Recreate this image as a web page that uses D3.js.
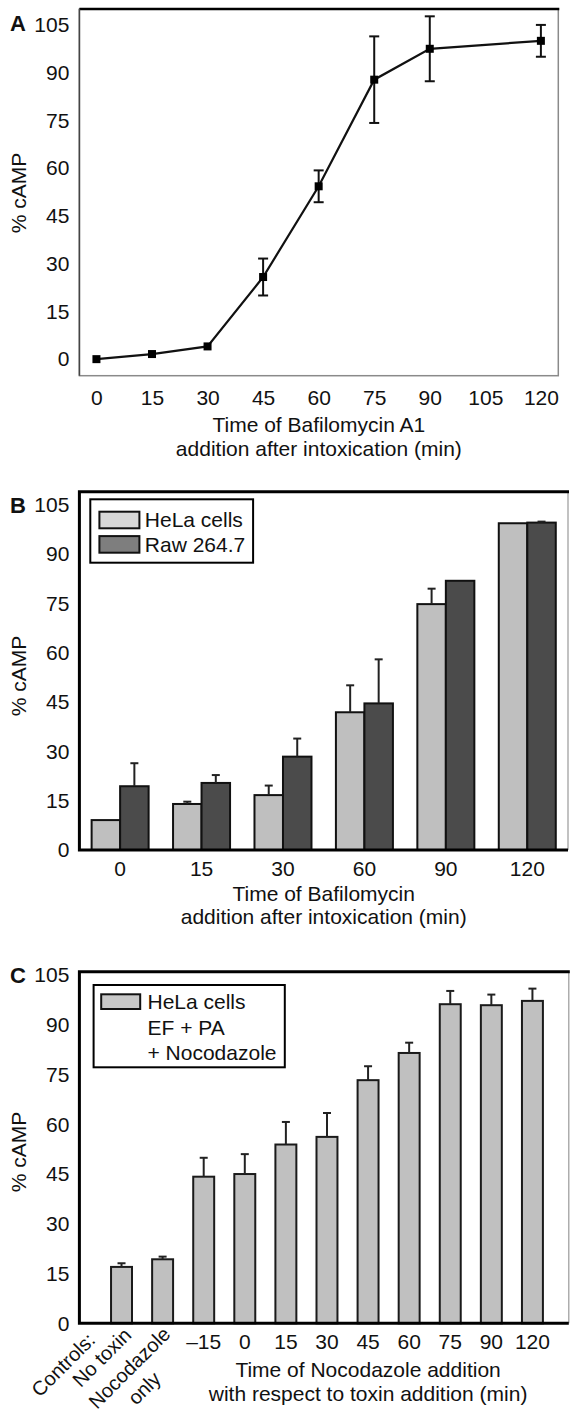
<!DOCTYPE html>
<html>
<head>
<meta charset="utf-8">
<script src="https://cdn.jsdelivr.net/npm/d3@7"></script>
<style>
  body { margin: 0; background: #fff; }
  svg text { font-family: 'Liberation Sans', Arial, Helvetica, sans-serif; fill: #111; }
</style>
</head>
<body>
<svg id="fig" width="571" height="1413"></svg>
<script>
// ---- data ----
var yTicks = [0, 15, 30, 45, 60, 75, 90, 105];

// panel A
var aTimes = [0, 15, 30, 45, 60, 75, 90, 120];
var aCamp  = [0, 1.6, 4.0, 25.8, 54.3, 87.8, 97.5, 100.0];
var aErr   = [0, 0, 0, 5.8, 5.0, 13.6, 10.2, 5.0];
var aXTicks = [0, 15, 30, 45, 60, 75, 90, 105, 120];

// panel B
var bTimes  = ["0", "15", "30", "60", "90", "120"];
var bSeries = ["HeLa cells", "Raw 264.7"];
var bHela    = [9.1, 14.0, 16.7, 41.9, 74.8, 99.4];
var bHelaErr = [0, 0.7, 2.9, 8.2, 4.7, 0];
var bRaw     = [19.4, 20.4, 28.4, 44.6, 81.9, 99.6];
var bRawErr  = [7.0, 2.4, 5.5, 13.4, 0, 0.3];

// panel C
var cCategories = ["No toxin", "Nocodazole only", "\u201315", "0", "15", "30", "45", "60", "75", "90", "120"];
var cCamp = [17.0, 19.3, 44.2, 45.0, 53.9, 56.2, 73.3, 81.5, 96.2, 95.9, 97.2];
var cErr  = [1.1, 0.8, 5.7, 6.0, 6.8, 7.2, 4.2, 3.1, 4.0, 3.2, 3.7];
var cLegend = ["HeLa cells", "EF + PA", "+ Nocodazole"];

var svg = d3.select("#fig");
var tickFont = 21, titleFont = 21;

/* y tick labels only, no tick marks */
function yLabels(g, y, left) {
	var ax = g.append("g").attr("transform", "translate(" + left + ",0)")
		.call(d3.axisLeft(y).tickValues(yTicks).tickSize(0).tickPadding(10));
	ax.select(".domain").remove();
	ax.selectAll("text").style("font-size", tickFont + "px").attr("fill", "#111");
}

function yTitle(g, x, cy) {
	g.append("text").attr("transform", "translate(" + x + "," + cy + ") rotate(-90)")
		.attr("text-anchor", "middle").attr("dy", "0.35em")
		.style("font-size", titleFont + "px").text("% cAMP");
}

function panelLabel(g, txt, y) {
	g.append("text").attr("x", 10).attr("y", y)
		.style("font-size", "22px").style("font-weight", "bold").text(txt);
}

function xTitle(g, cx, y, lines) {
	lines.forEach(function(l, i) {
		g.append("text").attr("x", cx).attr("y", y + i * 23.5)
			.attr("text-anchor", "middle").style("font-size", titleFont + "px").text(l);
	});
}

/*** Panel A ***/
(function() {
	var L = 79.4, R = 558.3, T = 9, B = 375.7;
	var x = d3.scaleLinear().domain([-4.6, 124.7]).range([L, R]);
	var y = d3.scaleLinear().domain([-5.2, 110]).range([B, T]);
	var g = svg.append("g");

	g.append("rect").attr("x", L).attr("y", T).attr("width", R - L).attr("height", B - T)
		.attr("fill", "none").attr("stroke", "#8a8a8a").attr("stroke-width", 1.5);
	g.append("line").attr("x1", L).attr("x2", R + 1).attr("y1", T).attr("y2", T)
		.attr("stroke", "#000").attr("stroke-width", 2.5);
	g.append("line").attr("x1", L).attr("x2", L).attr("y1", T).attr("y2", B)
		.attr("stroke", "#444").attr("stroke-width", 1.5);

	yLabels(g, y, L);
	var ax = g.append("g").attr("transform", "translate(0," + B + ")")
		.call(d3.axisBottom(x).tickValues(aXTicks).tickSize(0).tickPadding(14));
	ax.select(".domain").remove();
	ax.selectAll("text").style("font-size", tickFont + "px").attr("fill", "#111");

	var pts = aTimes.map(function(t, i) { return { t: t, v: aCamp[i], e: aErr[i] }; });

	g.append("path").datum(pts)
		.attr("fill", "none").attr("stroke", "#111").attr("stroke-width", 2.2)
		.attr("d", d3.line().x(function(d) { return x(d.t); }).y(function(d) { return y(d.v); }));

	var eb = g.selectAll(".err").data(pts.filter(function(d) { return d.e > 0; })).enter().append("g");
	eb.append("line").attr("x1", function(d) { return x(d.t); }).attr("x2", function(d) { return x(d.t); })
		.attr("y1", function(d) { return y(d.v - d.e); }).attr("y2", function(d) { return y(d.v + d.e); })
		.attr("stroke", "#111").attr("stroke-width", 2);
	[-1, 1].forEach(function(s) {
		eb.append("line").attr("x1", function(d) { return x(d.t) - 5; }).attr("x2", function(d) { return x(d.t) + 5; })
			.attr("y1", function(d) { return y(d.v + s * d.e); }).attr("y2", function(d) { return y(d.v + s * d.e); })
			.attr("stroke", "#111").attr("stroke-width", 2);
	});

	g.selectAll(".mk").data(pts).enter().append("rect")
		.attr("x", function(d) { return x(d.t) - 4; }).attr("y", function(d) { return y(d.v) - 4; })
		.attr("width", 8).attr("height", 8).attr("fill", "#000");

	panelLabel(g, "A", 31);
	yTitle(g, 19, 193);
	xTitle(g, (L + R) / 2, 432, ["Time of Bafilomycin A1", "addition after intoxication (min)"]);
})();

/*** Panel B ***/
(function() {
	var L = 79.4, R = 568, T = 491.7, B = 850;
	var y = d3.scaleLinear().domain([0, 109]).range([B, T]);
	var x0 = d3.scaleBand().domain(bTimes).range([L, R]).paddingInner(0.3).paddingOuter(0.15);
	var x1 = d3.scaleBand().domain(bSeries).range([0, x0.bandwidth()]);
	var fills = { "HeLa cells": "#bfbfbf", "Raw 264.7": "#4b4b4b" };
	var legendFills = { "HeLa cells": "#d8d8d8", "Raw 264.7": "#7e7e7e" };
	var g = svg.append("g");

	g.append("line").attr("x1", R).attr("x2", R).attr("y1", T).attr("y2", B)
		.attr("stroke", "#999").attr("stroke-width", 1.2);

	var rows = [];
	bTimes.forEach(function(t, i) {
		rows.push({ t: t, s: bSeries[0], v: bHela[i], e: bHelaErr[i] });
		rows.push({ t: t, s: bSeries[1], v: bRaw[i], e: bRawErr[i] });
	});

	g.selectAll(".bar").data(rows).enter().append("rect")
		.attr("x", function(d) { return x0(d.t) + x1(d.s); })
		.attr("y", function(d) { return y(d.v); })
		.attr("width", x1.bandwidth()).attr("height", function(d) { return B - y(d.v); })
		.attr("fill", function(d) { return fills[d.s]; })
		.attr("stroke", "#111").attr("stroke-width", 2);

	var eb = g.selectAll(".err").data(rows.filter(function(d) { return d.e > 0; })).enter().append("g");
	eb.append("line")
		.attr("x1", function(d) { return x0(d.t) + x1(d.s) + x1.bandwidth() / 2; })
		.attr("x2", function(d) { return x0(d.t) + x1(d.s) + x1.bandwidth() / 2; })
		.attr("y1", function(d) { return y(d.v); }).attr("y2", function(d) { return y(d.v + d.e); })
		.attr("stroke", "#222").attr("stroke-width", 2);
	eb.append("line")
		.attr("x1", function(d) { return x0(d.t) + x1(d.s) + x1.bandwidth() / 2 - 4; })
		.attr("x2", function(d) { return x0(d.t) + x1(d.s) + x1.bandwidth() / 2 + 4; })
		.attr("y1", function(d) { return y(d.v + d.e); }).attr("y2", function(d) { return y(d.v + d.e); })
		.attr("stroke", "#222").attr("stroke-width", 2);

	// frame: heavy top, left, bottom
	g.append("path").attr("d", "M" + (R + 1) + "," + T + "H" + L + "V" + B + "H" + R)
		.attr("fill", "none").attr("stroke", "#000").attr("stroke-width", 3);

	yLabels(g, y, L);
	var ax = g.append("g").attr("transform", "translate(0," + B + ")")
		.call(d3.axisBottom(x0).tickSize(0).tickPadding(11));
	ax.select(".domain").remove();
	ax.selectAll("text").style("font-size", tickFont + "px").attr("fill", "#111");

	// legend
	var lg = g.append("g").attr("transform", "translate(90.3,499.3)");
	lg.append("rect").attr("width", 162.8).attr("height", 63.4)
		.attr("fill", "#fff").attr("stroke", "#000").attr("stroke-width", 2);
	bSeries.forEach(function(s, i) {
		lg.append("rect").attr("x", 9.1).attr("y", 12.4 + i * 24.4).attr("width", 40).attr("height", 16.6)
			.attr("fill", legendFills[s]).attr("stroke", "#111").attr("stroke-width", 2);
		lg.append("text").attr("x", 54.5).attr("y", 28 + i * 24.4)
			.style("font-size", titleFont + "px").text(s);
	});

	panelLabel(g, "B", 513);
	yTitle(g, 19, 676);
	xTitle(g, (L + R) / 2, 900.5, ["Time of Bafilomycin", "addition after intoxication (min)"]);
})();

/*** Panel C ***/
(function() {
	var L = 79.4, R = 568.8, T = 971.7, B = 1323.3;
	var y = d3.scaleLinear().domain([0, 106]).range([B, T]);
	var x = d3.scaleBand().domain(cCategories).range([L, R])
		.paddingInner(0.49).paddingOuter(0.7).align(0.55);
	var g = svg.append("g");

	g.append("line").attr("x1", R).attr("x2", R).attr("y1", T).attr("y2", B)
		.attr("stroke", "#999").attr("stroke-width", 1.2);

	var rows = cCategories.map(function(c, i) { return { c: c, v: cCamp[i], e: cErr[i] }; });

	g.selectAll(".bar").data(rows).enter().append("rect")
		.attr("x", function(d) { return x(d.c); }).attr("y", function(d) { return y(d.v); })
		.attr("width", x.bandwidth()).attr("height", function(d) { return B - y(d.v); })
		.attr("fill", "#c0c0c0").attr("stroke", "#1a1a1a").attr("stroke-width", 2);

	var eb = g.selectAll(".err").data(rows).enter().append("g");
	eb.append("line")
		.attr("x1", function(d) { return x(d.c) + x.bandwidth() / 2; })
		.attr("x2", function(d) { return x(d.c) + x.bandwidth() / 2; })
		.attr("y1", function(d) { return y(d.v); }).attr("y2", function(d) { return y(d.v + d.e); })
		.attr("stroke", "#222").attr("stroke-width", 2);
	eb.append("line")
		.attr("x1", function(d) { return x(d.c) + x.bandwidth() / 2 - 4; })
		.attr("x2", function(d) { return x(d.c) + x.bandwidth() / 2 + 4; })
		.attr("y1", function(d) { return y(d.v + d.e); }).attr("y2", function(d) { return y(d.v + d.e); })
		.attr("stroke", "#222").attr("stroke-width", 2);

	g.append("path").attr("d", "M" + (R + 1) + "," + T + "H" + L + "V" + B + "H" + R)
		.attr("fill", "none").attr("stroke", "#000").attr("stroke-width", 3);

	yLabels(g, y, L);

	// numeric time labels
	var numeric = cCategories.slice(2);
	var ax = g.append("g").attr("transform", "translate(0," + B + ")")
		.call(d3.axisBottom(x).tickValues(numeric).tickSize(0).tickPadding(11));
	ax.select(".domain").remove();
	ax.selectAll("text").style("font-size", tickFont + "px").attr("fill", "#111");

	// slanted control labels (kept a bit smaller so they stay inside the page)
	var slantFont = 20;
	var step = x.step();
	function slant(txt, px, py) {
		return g.append("text")
			.attr("transform", "translate(" + px + "," + py + ") rotate(-45)")
			.attr("text-anchor", "end").style("font-size", slantFont + "px").text(txt);
	}
	var cNo = x(cCategories[0]) + x.bandwidth() / 2;
	var cNoc = x(cCategories[1]) + x.bandwidth() / 2;
	slant("Controls:", cNo - step + 16, B + 18);
	slant("No toxin", cNo + 11, B + 13);
	var noc = slant("Nocodazole", cNoc + 9, B + 12);
	var w = noc.node().getComputedTextLength();
	g.append("text")
		.attr("transform", "translate(" + (cNoc + 9) + "," + (B + 12) + ") rotate(-45)")
		.attr("x", -w / 2 - 4).attr("y", 25)
		.attr("text-anchor", "middle").style("font-size", slantFont + "px").text("only");

	// legend
	var lg = g.append("g").attr("transform", "translate(93.6,985)");
	lg.append("rect").attr("width", 191.2).attr("height", 82.3)
		.attr("fill", "#fff").attr("stroke", "#000").attr("stroke-width", 2);
	lg.append("rect").attr("x", 7.6).attr("y", 9.3).attr("width", 39).attr("height", 14.7)
		.attr("fill", "#c8c8c8").attr("stroke", "#111").attr("stroke-width", 2);
	cLegend.forEach(function(s, i) {
		lg.append("text").attr("x", 53.9).attr("y", 24 + i * 25.5)
			.style("font-size", titleFont + "px").text(s);
	});

	panelLabel(g, "C", 983);
	yTitle(g, 19, 1152);
	var cx = (x(cCategories[2]) + x(cCategories[10]) + x.bandwidth()) / 2;
	xTitle(g, cx, 1377, ["Time of Nocodazole addition", "with respect to toxin addition (min)"]);
})();
</script>
</body>
</html>
